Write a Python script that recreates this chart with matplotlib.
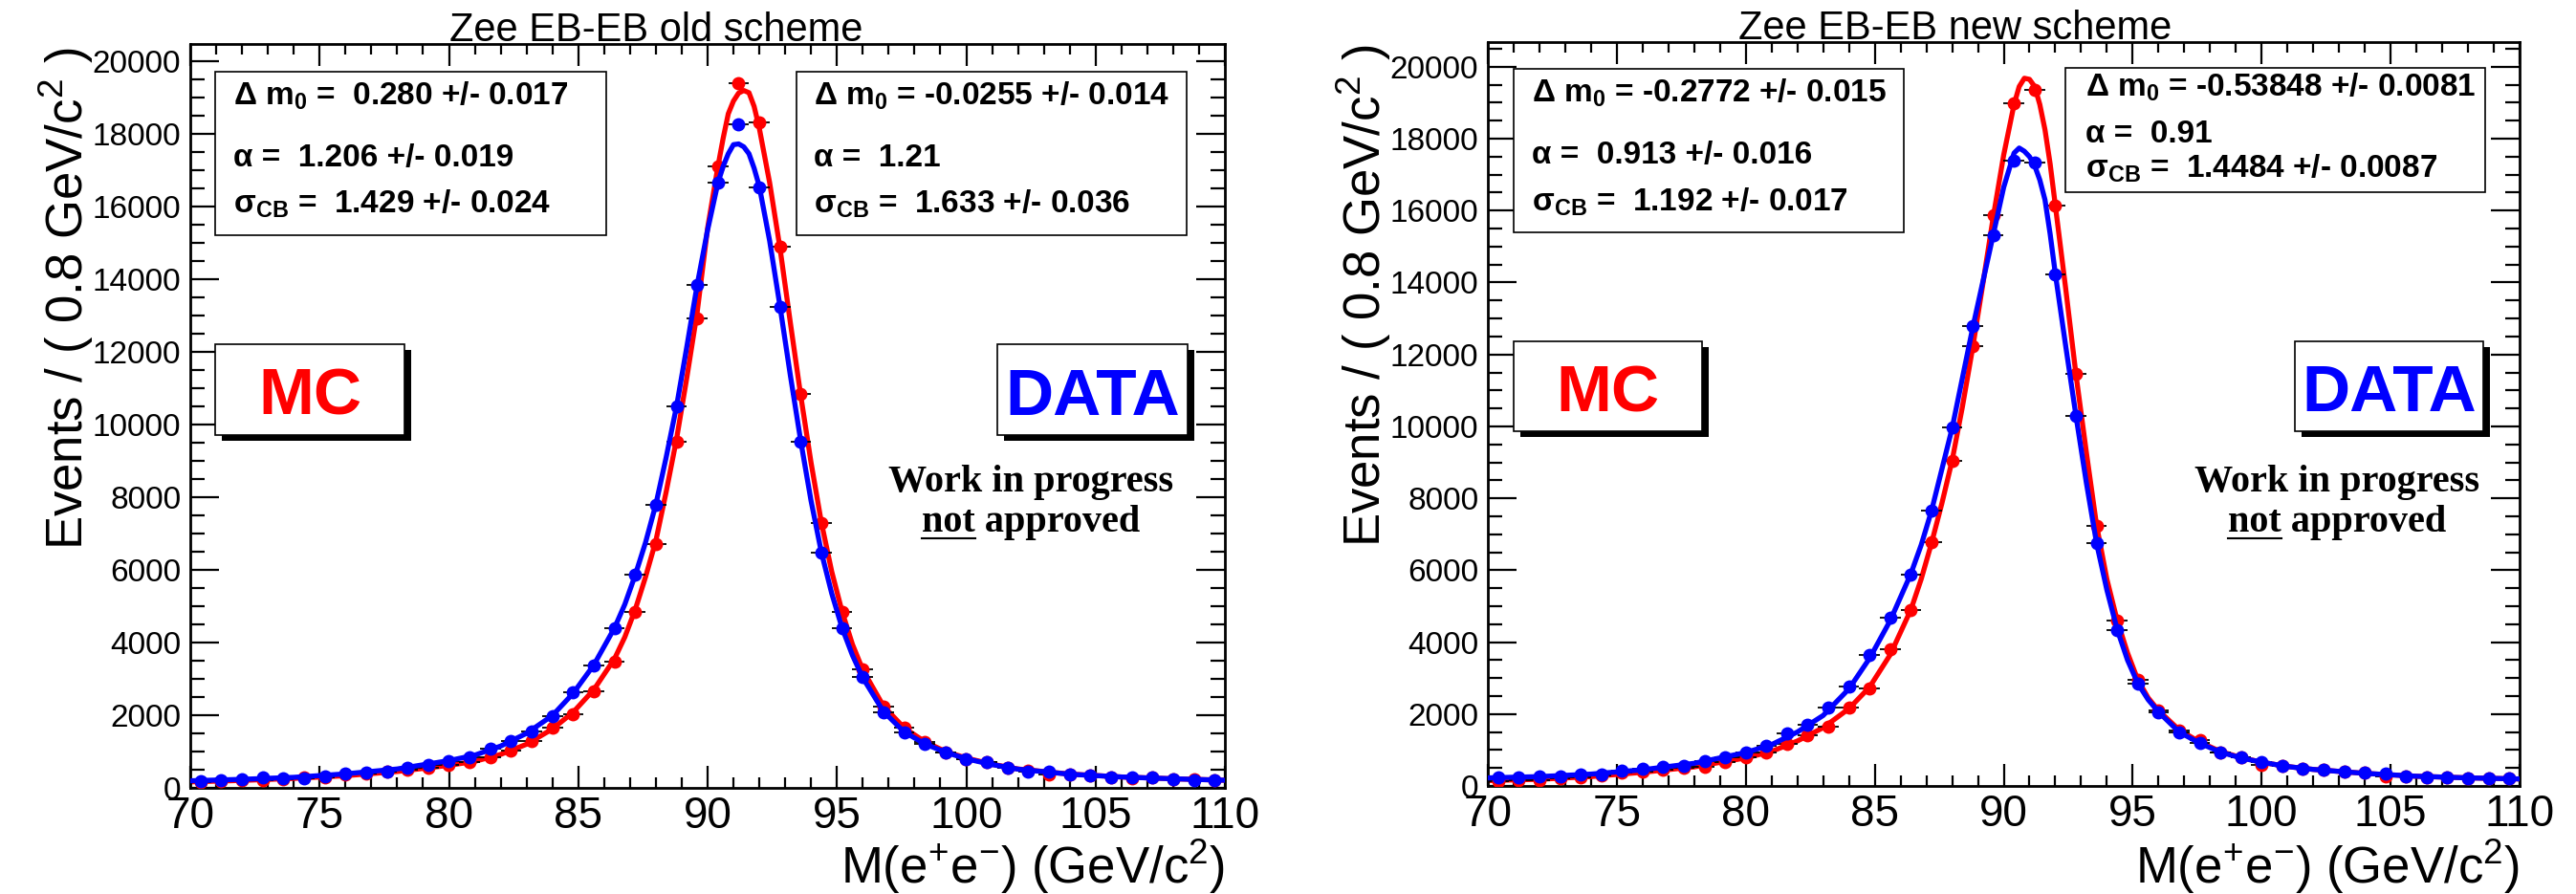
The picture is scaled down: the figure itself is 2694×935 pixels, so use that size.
import numpy as np
import matplotlib
matplotlib.use("Agg")
import matplotlib.pyplot as plt
from matplotlib.patches import Rectangle
from matplotlib.lines import Line2D
from matplotlib.ticker import MultipleLocator

plt.rcParams['font.family'] = ['Liberation Sans', 'DejaVu Sans']
plt.rcParams['mathtext.fontset'] = 'custom'
plt.rcParams['mathtext.rm'] = 'Liberation Sans'
plt.rcParams['mathtext.default'] = 'regular'

W, H = 2694, 935

# bin centres (0.8 GeV bins, 70-110)
mass = np.arange(70.4, 110, 0.8)

# --- old scheme ---
old_mc = [150, 190, 200, 210, 240, 290, 300, 360, 385, 440,
          510, 545, 633, 720, 853, 1030, 1285, 1660, 2020, 2650,
          3460, 4830, 6720, 9530, 12930, 17090, 19400, 18300, 14890, 10830,
          7290, 4850, 3260, 2230, 1670, 1275, 985, 800, 704, 560,
          470, 380, 370, 340, 300, 270, 280, 240, 230, 200]
old_data = [193, 220, 225, 298, 264, 270, 325, 396, 422, 457,
            562, 633, 748, 836, 1082, 1293, 1557, 1975, 2620, 3375,
            4400, 5857, 7786, 10490, 13850, 16660, 18250, 16525, 13224, 9533,
            6467, 4401, 3040, 2075, 1535, 1205, 985, 792, 704, 545,
            457, 450, 370, 352, 298, 281, 281, 237, 220, 211]

# --- new scheme ---
new_mc = [142, 168, 168, 213, 231, 284, 364, 408, 452, 497,
          541, 674, 807, 922, 1162, 1400, 1649, 2190, 2725, 3790,
          4880, 6769, 9035, 12223, 15867, 18990, 19350, 16135, 11460, 7226,
          4612, 2939, 2110, 1543, 1277, 922, 807, 585, 558, 479,
          452, 390, 364, 275, 275, 248, 231, 213, 213, 204]
new_data = [231, 248, 257, 275, 319, 319, 425, 479, 523, 567,
            691, 807, 940, 1117, 1454, 1711, 2181, 2760, 3655, 4680,
            5886, 7668, 9973, 12785, 15306, 17380, 17340, 14230, 10279, 6755,
            4346, 2846, 2060, 1489, 1206, 922, 807, 674, 558, 479,
            452, 390, 364, 337, 275, 248, 231, 213, 213, 204]

# fitted curves, sampled by eye
fit_x = [70, 72, 74, 76, 78, 80, 81, 82, 83, 84, 84.8, 85.6,
         86.4, 86.8, 87.2, 87.6, 88.0, 88.4, 88.8, 89.2, 89.6, 90.0, 90.4, 90.6, 90.8,
         91.0, 91.2, 91.4, 91.6, 91.8, 92.0, 92.4, 92.8, 93.2, 93.6, 94.0, 94.4, 94.8,
         95.2, 95.6, 96.0, 96.8, 97.6, 98.4, 99.2, 100, 101, 102, 104, 106, 108, 110]
old_mc_fit = [165, 205, 260, 335, 450, 620, 730, 920, 1200, 1620, 2080, 2700,
              3550, 4150, 4900, 5800, 6800, 8150, 9600, 11300, 13100, 15400, 17100, 17870, 18550,
              18900, 19120, 19190, 19130, 18750, 18150, 16650, 14850, 12800, 10800, 8950, 7300, 5950,
              4850, 3950, 3250, 2250, 1650, 1270, 1000, 820, 650, 520, 380, 300, 250, 210]
old_data_fit = [195, 235, 290, 385, 520, 750, 900, 1150, 1500, 1990, 2600, 3380,
                4400, 5050, 5850, 6750, 7800, 9100, 10500, 12150, 13850, 15350, 16650, 17100, 17450,
                17700, 17720, 17640, 17450, 17050, 16550, 15050, 13250, 11350, 9550, 7900, 6480, 5350,
                4400, 3650, 3030, 2100, 1540, 1210, 980, 800, 640, 515, 375, 300, 250, 210]
new_mc_fit = [150, 185, 260, 380, 530, 780, 960, 1250, 1620, 2150, 2750, 3650,
              4900, 5750, 6750, 7850, 9050, 10550, 12200, 14000, 15850, 17550, 18950, 19450, 19680,
              19650, 19450, 18950, 18250, 17300, 16150, 13850, 11450, 9300, 7250, 5750, 4600, 3700,
              2950, 2450, 2100, 1560, 1220, 960, 790, 660, 540, 460, 350, 270, 225, 195]
new_data_fit = [225, 260, 330, 450, 630, 930, 1150, 1500, 1960, 2700, 3550, 4600,
                5900, 6700, 7650, 8800, 9950, 11350, 12750, 14050, 15350, 16650, 17600, 17740, 17650,
                17500, 17250, 16850, 16300, 15350, 14250, 12250, 10300, 8450, 6750, 5450, 4350, 3500,
                2850, 2400, 2060, 1500, 1190, 940, 780, 660, 540, 460, 350, 270, 225, 195]

old_mc_pars = ["Δ m$_0$ =  0.280 +/- 0.017", "α =  1.206 +/- 0.019", "σ$_{CB}$ =  1.429 +/- 0.024"]
old_data_pars = ["Δ m$_0$ = -0.0255 +/- 0.014", "α =  1.21", "σ$_{CB}$ =  1.633 +/- 0.036"]
new_mc_pars = ["Δ m$_0$ = -0.2772 +/- 0.015", "α =  0.913 +/- 0.016", "σ$_{CB}$ =  1.192 +/- 0.017"]
new_data_pars = ["Δ m$_0$ = -0.53848 +/- 0.0081", "α =  0.91", "σ$_{CB}$ =  1.4484 +/- 0.0087"]

fig = plt.figure(figsize=(W / 100, H / 100), dpi=100)
fig.patch.set_facecolor('white')


def fx(px):
    return px / W


def fy(py):
    return 1 - py / H


def panel(left, right, top, bottom, ymax, mc, data, mc_fit, data_fit):
    ax = fig.add_axes([fx(left), fy(bottom), (right - left) / W, (bottom - top) / H])
    ax.plot(fit_x, mc_fit, color='red', lw=3.8, zorder=2)
    ax.errorbar(mass, mc, xerr=0.4, fmt='o', color='red', ms=10, mew=0,
                ecolor='black', elinewidth=1.3, capsize=2.4, capthick=1.3, zorder=3)
    ax.errorbar(mass, data, xerr=0.4, fmt='o', color='blue', ms=10, mew=0,
                ecolor='black', elinewidth=1.3, capsize=2.4, capthick=1.3, zorder=4)
    ax.plot(fit_x, data_fit, color='blue', lw=3.8, zorder=5)
    ax.set_xlim(70, 110)
    ax.set_ylim(0, ymax)
    ax.xaxis.set_major_locator(MultipleLocator(5))
    ax.xaxis.set_minor_locator(MultipleLocator(1))
    ax.yaxis.set_major_locator(MultipleLocator(2000))
    ax.yaxis.set_minor_locator(MultipleLocator(500))
    ax.tick_params(which='both', direction='in', top=True, right=True, width=1.6)
    ax.tick_params(axis='x', which='major', length=16.5, labelsize=33, pad=6)
    ax.tick_params(axis='x', which='minor', length=8)
    ax.tick_params(axis='y', which='major', length=21.5, labelsize=24, pad=7)
    ax.tick_params(axis='y', which='minor', length=11)
    for s in ax.spines.values():
        s.set_linewidth(2)
    return ax


def par_box(x0, y0, x1, y1, tx, baselines, lines):
    fig.add_artist(Rectangle((fx(x0), fy(y1)), (x1 - x0) / W, (y1 - y0) / H,
                             transform=fig.transFigure, facecolor='white',
                             edgecolor='black', lw=1.2, zorder=6))
    for b, s in zip(baselines, lines):
        fig.text(fx(tx), fy(b), s, fontsize=24, fontweight='bold',
                 ha='left', va='baseline', zorder=7)


def tag_box(x0, y0, x1, y1, label, color, base):
    fig.add_artist(Rectangle((fx(x0 + 7), fy(y1 + 6)), (x1 - x0) / W, (y1 - y0) / H,
                             transform=fig.transFigure, facecolor='black',
                             edgecolor='none', zorder=5))
    fig.add_artist(Rectangle((fx(x0), fy(y1)), (x1 - x0) / W, (y1 - y0) / H,
                             transform=fig.transFigure, facecolor='white',
                             edgecolor='black', lw=1.2, zorder=6))
    fig.text(fx((x0 + x1) / 2), fy(base), label, color=color, fontsize=50,
             fontweight='bold', ha='center', va='baseline', zorder=7)


ylab = "Events / ( 0.8 GeV/c$^{2}$ )"
xlab = "M(e$^{+}$e$^{-}$) (GeV/c$^{2}$)"

# left: old scheme
panel(199, 1281, 46, 824, 20470, old_mc, old_data, old_mc_fit, old_data_fit)
fig.text(fx(686), fy(43), "Zee EB-EB old scheme", fontsize=30, ha='center', va='baseline')
fig.text(fx(87), fy(50), ylab, fontsize=38, rotation=90, rotation_mode='anchor',
         ha='right', va='baseline')
fig.text(fx(1281), fy(924), xlab, fontsize=38, ha='right', va='baseline')
par_box(225, 75, 634, 246, 244, [110, 174, 223], old_mc_pars)
par_box(833, 75, 1241, 246, 851, [110, 174, 223], old_data_pars)
tag_box(225, 360, 423, 455, "MC", 'red', 434)
tag_box(1043, 360, 1242, 455, "DATA", 'blue', 434)

# right: new scheme
panel(1556, 2635, 43.5, 822, 20700, new_mc, new_data, new_mc_fit, new_data_fit)
fig.text(fx(2045), fy(41), "Zee EB-EB new scheme", fontsize=30, ha='center', va='baseline')
fig.text(fx(1444), fy(47), ylab, fontsize=38, rotation=90, rotation_mode='anchor',
         ha='right', va='baseline')
fig.text(fx(2635), fy(924), xlab, fontsize=38, ha='right', va='baseline')
par_box(1583, 72, 1991, 243, 1602, [107, 171, 221], new_mc_pars)
par_box(2160, 71, 2599, 201, 2181, [101, 149, 186], new_data_pars)
tag_box(1583, 357, 1780, 451, "MC", 'red', 430)
tag_box(2400, 357, 2597, 451, "DATA", 'blue', 430)

# "Work in progress / not approved" stamps
serif = dict(family=['Liberation Serif', 'DejaVu Serif'], fontsize=29, fontweight='bold',
             ha='center', va='baseline')
fig.canvas.draw()
renderer = fig.canvas.get_renderer()
for cx in (1078, 2444):
    fig.text(fx(cx), fy(514), "Work in progress", **serif)
    t = fig.text(fx(cx), fy(556), "not approved", **serif)
    bb = t.get_window_extent(renderer)
    tmp = fig.text(0, 0, "not", **serif)
    w_not = tmp.get_window_extent(renderer).width
    tmp.remove()
    fig.add_artist(Line2D([bb.x0 / W, (bb.x0 + w_not) / W], [fy(563), fy(563)],
                          transform=fig.transFigure, color='black', lw=1.5))

fig.savefig('out.png', dpi=100)
